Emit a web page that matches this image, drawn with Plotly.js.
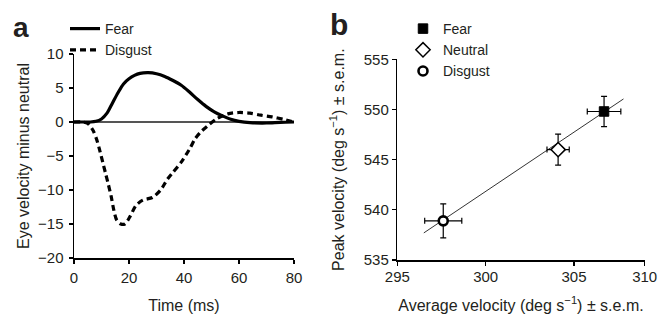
<!DOCTYPE html>
<html>
<head>
<meta charset="utf-8">
<script src="https://cdn.plot.ly/plotly-3.0.1.min.js"></script>
<style>
  html, body { margin: 0; padding: 0; background: #fff; }
  #chart { width: 660px; height: 314px; }
</style>
</head>
<body>
<div id="chart"></div>
<script>
// ---- Panel a: eye velocity minus neutral (time course) ----
const fearTime = [0, 4, 6, 8, 10, 12, 14, 16, 18, 20, 22, 24, 27, 30, 33, 36, 39, 42, 45, 48, 51, 54, 57, 60, 64, 70, 75, 80];
const fearVel  = [0, 0, 0, 0.1, 0.45, 1.3, 2.8, 4.3, 5.6, 6.35, 6.85, 7.15, 7.25, 7.1, 6.7, 6.1, 5.4, 4.4, 3.3, 2.3, 1.5, 0.9, 0.4, 0.1, -0.1, -0.15, -0.05, 0];

const disgustTime = [0, 3, 5, 7, 8.5, 9.5, 10.5, 11.5, 12.5, 13.5, 14.5, 15.5, 17, 18.5, 20.5, 22.5, 25, 28.5, 31.5, 34, 36, 39, 42, 44, 46, 48.5, 52, 56, 60, 64, 68, 72, 76, 80];
const disgustVel  = [0, 0, -0.2, -1.3, -2.9, -4.4, -6.0, -7.6, -9.2, -10.9, -13.0, -14.4, -15.0, -15.0, -13.8, -12.3, -11.5, -11.1, -10.0, -8.4, -7.4, -5.9, -4.0, -2.5, -1.5, -0.6, 0.5, 1.2, 1.4, 1.3, 1.0, 0.75, 0.4, 0];

// ---- Panel b: peak vs average velocity ----
const conditions  = ['Fear', 'Neutral', 'Disgust'];
const avgVelocity = [306.7, 304.1, 297.6];
const avgSem      = [0.95, 0.63, 1.05];
const peakVelocity= [549.8, 546.0, 538.9];
const peakSem     = [1.5, 1.55, 1.7];
const fitX = [296.5, 307.8];
const fitY = [537.7, 551.05];

const xTicksB = [295, 300, 305, 309];
const xTickTextB = ['295', '300', '305', '310'];

const markerSymbols = ['square', 'diamond', 'circle'];
const markerSizes = [9.5, 11, 9];
const markerFill = ['black', 'white', 'white'];
const markerLineW = [1, 1.5, 2.6];

const ink = '#231f20';
const FONT = 'Liberation Sans, Arial, Helvetica, sans-serif';

const traces = [
  { x: fearTime, y: fearVel, name: 'Fear', type: 'scatter', mode: 'lines',
    line: { color: 'black', width: 3.2, shape: 'spline', smoothing: 0.8 },
    xaxis: 'x', yaxis: 'y', legend: 'legend' },
  { x: disgustTime, y: disgustVel, name: 'Disgust', type: 'scatter', mode: 'lines',
    line: { color: 'black', width: 3.2, dash: '6px,4px', shape: 'spline', smoothing: 0.8 },
    xaxis: 'x', yaxis: 'y', legend: 'legend' },
  { x: fitX, y: fitY, type: 'scatter', mode: 'lines', showlegend: false,
    line: { color: '#333', width: 1 }, xaxis: 'x2', yaxis: 'y2', hoverinfo: 'skip' }
];

conditions.forEach((c, i) => {
  traces.push({
    x: [avgVelocity[i]], y: [peakVelocity[i]], name: c, type: 'scatter', mode: 'markers',
    marker: { symbol: markerSymbols[i], size: markerSizes[i], color: markerFill[i],
              line: { color: 'black', width: markerLineW[i] } },
    error_x: { type: 'data', array: [avgSem[i]], color: 'black', thickness: 1.2, width: 3 },
    error_y: { type: 'data', array: [peakSem[i]], color: 'black', thickness: 1.2, width: 3 },
    xaxis: 'x2', yaxis: 'y2', legend: 'legend2'
  });
});

const axisCommon = {
  showline: true, linecolor: 'black', linewidth: 1.5,
  ticks: 'outside', ticklen: 4, tickwidth: 1.2, tickcolor: 'black',
  showgrid: false, zeroline: false,
  tickfont: { size: 15, color: ink, family: FONT },
  fixedrange: true
};

const layout = {
  width: 660, height: 314,
  margin: { l: 0, r: 0, t: 0, b: 0 },
  paper_bgcolor: 'white', plot_bgcolor: 'white',
  font: { family: FONT, color: ink, size: 15 },
  xaxis: Object.assign({}, axisCommon, {
    domain: [74 / 660, 294 / 660], range: [0, 80], tickvals: [0, 20, 40, 60, 80],
    anchor: 'y', ticklabelstandoff: 1,
    title: { text: 'Time (ms)', font: { size: 16, color: ink }, standoff: 22 }
  }),
  yaxis: Object.assign({}, axisCommon, {
    domain: [1 - 258 / 314, 1 - 54 / 314], range: [-20, 10], dtick: 5, anchor: 'x',
    zeroline: true, zerolinecolor: '#555', zerolinewidth: 1.3, ticklabelstandoff: 2,
    title: { text: 'Eye velocity minus neutral', font: { size: 16, color: ink }, standoff: 4 }
  }),
  xaxis2: Object.assign({}, axisCommon, {
    domain: [397.3 / 660, 644.7 / 660], range: [295, 309],
    tickvals: xTicksB, ticktext: xTickTextB, anchor: 'y2', ticklabelstandoff: -2,
    title: { text: 'Average velocity (deg s<sup>−1</sup>) ± s.e.m.', font: { size: 16, color: ink }, standoff: 22 }
  }),
  yaxis2: Object.assign({}, axisCommon, {
    domain: [1 - 260 / 314, 1 - 59.3 / 314], range: [535, 555], dtick: 5, anchor: 'x2',
    ticklabelstandoff: 0,
    title: { text: 'Peak velocity (deg s<sup>−1</sup>) ± s.e.m.', font: { size: 16, color: ink }, standoff: 15 }
  }),
  legend: {
    x: 65 / 660, y: 1 - 13 / 314, xanchor: 'left', yanchor: 'top',
    bgcolor: 'rgba(0,0,0,0)', borderwidth: 0, font: { size: 14, color: ink },
    itemwidth: 30, tracegroupgap: 0
  },
  legend2: {
    x: 403 / 660, y: 1 - 13 / 314, xanchor: 'left', yanchor: 'top',
    bgcolor: 'rgba(0,0,0,0)', borderwidth: 0, font: { size: 14, color: ink },
    itemwidth: 30, tracegroupgap: 0
  },
  annotations: [
    { text: '<b>a</b>', xref: 'paper', yref: 'paper', x: 11 / 660, y: 1 - 10 / 314,
      xanchor: 'left', yanchor: 'top', showarrow: false, font: { size: 28, color: ink } },
    { text: '<b>b</b>', xref: 'paper', yref: 'paper', x: 328 / 660, y: 1 - 6 / 314,
      xanchor: 'left', yanchor: 'top', showarrow: false, font: { size: 30, color: ink } }
  ]
};

Plotly.newPlot('chart', traces, layout, { displayModeBar: false, staticPlot: true });
</script>
</body>
</html>
